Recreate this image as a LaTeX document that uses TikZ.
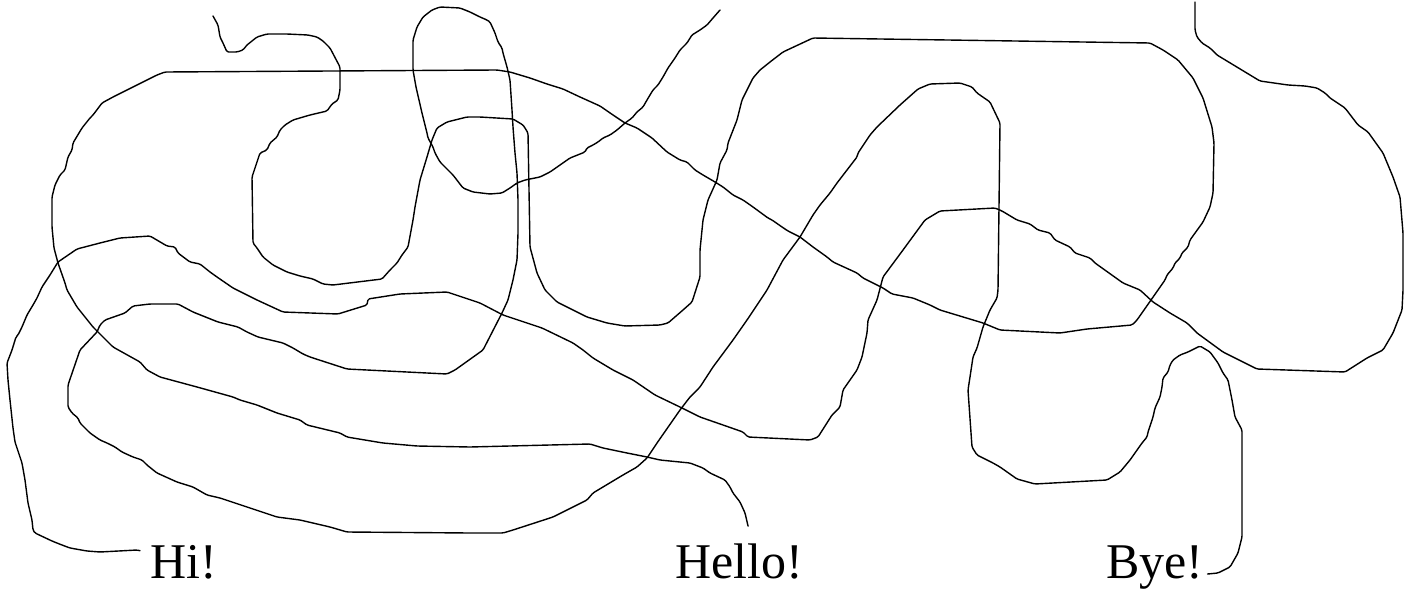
\documentclass[tikz,border=0pt]{standalone}
\usepackage{fontspec}
\setmainfont{Liberation Serif}
\begin{document}
\begin{tikzpicture}[x=1pt,y=-1pt,
  lbl/.style={anchor=base west,inner sep=0pt,font=\fontsize{50}{60}\selectfont},
  scribble/.style={line width=1.4pt,line join=round,line cap=round,rounded corners=1.5pt}]
\useasboundingbox (0,0) rectangle (1413,594);
\node[lbl] (hi) at (150,578) {Hi!};
\node[lbl] (hello) at (675,578) {Hello!};
\node[lbl] (bye) at (1106,578) {Bye!};
\coordinate (hiend) at (1195,2);
\coordinate (helloend) at (213,16);
\coordinate (byeend) at (720,10);
% Hi curve
\draw[scribble] ([shift={(-10pt,-6pt)}]hi.north west) -- (137,550) -- (100,552) -- (87,551) -- (70,548) -- (62,545) -- (52,541) -- (35,533) -- (33,530) -- (32,520) -- (28,503) -- (25,480) -- (22,463) -- (15,442) -- (13,428) -- (10,400) -- (8,380) -- (7,363) -- (12,350) -- (16,337) -- (18,335) -- (22,327) -- (27,315) -- (33,305) -- (37,298) -- (42,287) -- (50,275) -- (58,262) -- (77,249) -- (100,243) -- (120,238) -- (150,236) -- (167,246) -- (175,247) -- (178,253) -- (190,262) -- (200,264) -- (210,272) -- (217,277) -- (233,288) -- (257,300) -- (283,312) -- (338,314) -- (367,305) -- (368,299) -- (400,294) -- (447,292) -- (480,303) -- (503,315) -- (542,328) -- (573,343) -- (583,350) -- (593,358) -- (613,370) -- (633,380) -- (655,395) -- (682,408) -- (700,417) -- (723,425) -- (743,432) -- (748,437) -- (810,440) -- (818,437) -- (832,415) -- (840,407) -- (843,390) -- (857,370) -- (862,357) -- (867,333) -- (868,320) -- (877,300) -- (883,277) -- (903,250) -- (925,220) -- (940,211) -- (995,208) -- (1002,211) -- (1017,220) -- (1030,224) -- (1038,230) -- (1050,233) -- (1055,240) -- (1070,247) -- (1075,253) -- (1090,258) -- (1095,263) -- (1123,283) -- (1140,290) -- (1153,302) -- (1170,313) -- (1187,323) -- (1197,333) -- (1223,352) -- (1257,369) -- (1345,372) -- (1367,358) -- (1383,350) -- (1393,333) -- (1402,310) -- (1403,290) -- (1403,233) -- (1400,197) -- (1393,177) -- (1383,153) -- (1368,132) -- (1358,125) -- (1345,108) -- (1330,98) -- (1325,93) -- (1317,88) -- (1305,86) -- (1288,85) -- (1260,81) -- (1255,78) -- (1217,55) -- (1210,48) -- (1202,43) -- (1197,37) -- (1195,30) -- (hiend);
% Hello curve
\draw[scribble] ([shift={(9pt,17pt)}]hello.north) -- (745,513) -- (740,502) -- (733,493) -- (730,487) -- (725,480) -- (710,473) -- (703,468) -- (690,463) -- (660,460) -- (647,457) -- (627,453) -- (603,448) -- (590,444) -- (470,447) -- (417,446) -- (383,443) -- (347,437) -- (340,433) -- (307,425) -- (300,420) -- (277,413) -- (257,405) -- (240,400) -- (233,397) -- (197,387) -- (160,377) -- (147,370) -- (140,362) -- (113,347) -- (93,327) -- (77,307) -- (67,290) -- (65,283) -- (58,263) -- (54,248) -- (52,227) -- (52,197) -- (55,185) -- (60,175) -- (65,170) -- (68,157) -- (72,150) -- (73,143) -- (82,128) -- (90,118) -- (93,115) -- (102,103) -- (113,97) -- (133,87) -- (157,75) -- (165,72) -- (497,70) -- (510,72) -- (530,78) -- (547,84) -- (563,89) -- (580,97) -- (600,106) -- (613,115) -- (625,123) -- (637,128) -- (652,138) -- (667,152) -- (680,160) -- (687,162) -- (695,170) -- (703,175) -- (715,182) -- (723,187) -- (733,195) -- (743,200) -- (753,207) -- (768,218) -- (772,220) -- (782,227) -- (788,231) -- (800,237) -- (813,247) -- (827,257) -- (833,262) -- (857,273) -- (863,278) -- (883,288) -- (892,294) -- (913,298) -- (930,305) -- (940,310) -- (983,323) -- (1000,330) -- (1060,333) -- (1087,329) -- (1132,325) -- (1137,320) -- (1158,290) -- (1165,280) -- (1167,275) -- (1173,268) -- (1175,263) -- (1180,258) -- (1182,253) -- (1188,247) -- (1190,240) -- (1203,222) -- (1210,207) -- (1213,193) -- (1214,143) -- (1212,127) -- (1203,98) -- (1193,78) -- (1178,60) -- (1163,50) -- (1150,43) -- (813,38) -- (783,52) -- (770,62) -- (760,70) -- (753,78) -- (742,100) -- (737,120) -- (728,143) -- (727,150) -- (720,163) -- (717,180) -- (708,200) -- (703,220) -- (700,250) -- (700,277) -- (692,302) -- (683,310) -- (668,323) -- (660,325) -- (625,326) -- (607,323) -- (587,317) -- (557,302) -- (545,290) -- (537,273) -- (530,247) -- (528,133) -- (525,128) -- (523,125) -- (513,119) -- (480,117) -- (467,117) -- (447,122) -- (437,128) -- (432,140) -- (427,157) -- (420,180) -- (415,207) -- (413,220) -- (408,247) -- (402,255) -- (397,263) -- (390,270) -- (382,279) -- (333,285) -- (323,284) -- (313,279) -- (300,276) -- (287,272) -- (273,265) -- (263,257) -- (257,248) -- (253,243) -- (252,177) -- (260,153) -- (267,150) -- (270,143) -- (277,137) -- (280,130) -- (285,125) -- (293,120) -- (310,115) -- (327,111) -- (332,104) -- (338,100) -- (340,90) -- (340,67) -- (330,48) -- (323,41) -- (317,37) -- (308,35) -- (287,34) -- (267,34) -- (257,37) -- (247,45) -- (243,50) -- (237,52) -- (227,52) -- (223,43) -- (220,37) -- (218,25) -- (helloend);
% Bye curve
\draw[scribble] ([shift={(4pt,4pt)}]bye.base east) -- (1218,573) -- (1230,567) -- (1238,553) -- (1242,537) -- (1242,430) -- (1235,417) -- (1232,400) -- (1228,380) -- (1223,373) -- (1218,363) -- (1210,352) -- (1200,346) -- (1188,352) -- (1180,355) -- (1173,360) -- (1170,365) -- (1168,372) -- (1163,378) -- (1162,387) -- (1160,397) -- (1155,408) -- (1153,417) -- (1148,432) -- (1147,437) -- (1142,443) -- (1130,460) -- (1120,472) -- (1107,480) -- (1035,484) -- (1017,479) -- (1000,467) -- (993,463) -- (977,455) -- (972,447) -- (968,390) -- (970,377) -- (973,357) -- (977,348) -- (983,327) -- (990,310) -- (997,298) -- (998,290) -- (1000,123) -- (990,102) -- (977,93) -- (972,87) -- (960,83) -- (930,84) -- (918,89) -- (900,105) -- (877,127) -- (870,135) -- (858,153) -- (857,157) -- (837,183) -- (830,193) -- (820,205) -- (813,215) -- (800,237) -- (783,260) -- (767,290) -- (747,320) -- (733,340) -- (713,367) -- (700,387) -- (690,397) -- (680,410) -- (657,443) -- (647,458) -- (637,467) -- (623,475) -- (593,493) -- (587,500) -- (577,505) -- (553,517) -- (513,530) -- (503,533) -- (470,533) -- (347,532) -- (330,527) -- (300,520) -- (277,517) -- (247,507) -- (220,498) -- (207,495) -- (193,487) -- (177,482) -- (157,473) -- (147,465) -- (142,460) -- (133,457) -- (122,452) -- (115,447) -- (107,443) -- (100,440) -- (90,433) -- (80,423) -- (78,418) -- (72,413) -- (68,407) -- (68,385) -- (80,350) -- (97,332) -- (100,325) -- (105,320) -- (125,313) -- (133,306) -- (150,304) -- (178,304) -- (193,312) -- (218,322) -- (238,327) -- (247,332) -- (258,337) -- (283,343) -- (293,348) -- (303,354) -- (310,357) -- (347,369) -- (447,374) -- (455,370) -- (483,350) -- (502,313) -- (508,300) -- (513,280) -- (517,260) -- (518,233) -- (518,200) -- (517,173) -- (515,153) -- (513,127) -- (512,110) -- (510,80) -- (507,67) -- (503,53) -- (502,48) -- (498,42) -- (495,33) -- (490,22) -- (487,20) -- (480,17) -- (470,12) -- (460,8) -- (440,7) -- (432,10) -- (423,17) -- (417,27) -- (413,40) -- (413,70) -- (416,87) -- (422,113) -- (427,133) -- (428,138) -- (433,147) -- (435,153) -- (440,162) -- (448,170) -- (453,175) -- (463,188) -- (473,192) -- (490,194) -- (502,193) -- (510,188) -- (517,183) -- (525,180) -- (540,177) -- (550,172) -- (560,165) -- (570,158) -- (580,154) -- (585,152) -- (587,148) -- (593,145) -- (598,142) -- (603,138) -- (610,135) -- (617,130) -- (625,123) -- (632,118) -- (637,112) -- (643,107) -- (647,100) -- (653,90) -- (658,85) -- (663,77) -- (668,68) -- (675,58) -- (680,50) -- (687,43) -- (692,35) -- (700,30) -- (707,25) -- (713,18) -- (byeend);
\end{tikzpicture}
\end{document}
